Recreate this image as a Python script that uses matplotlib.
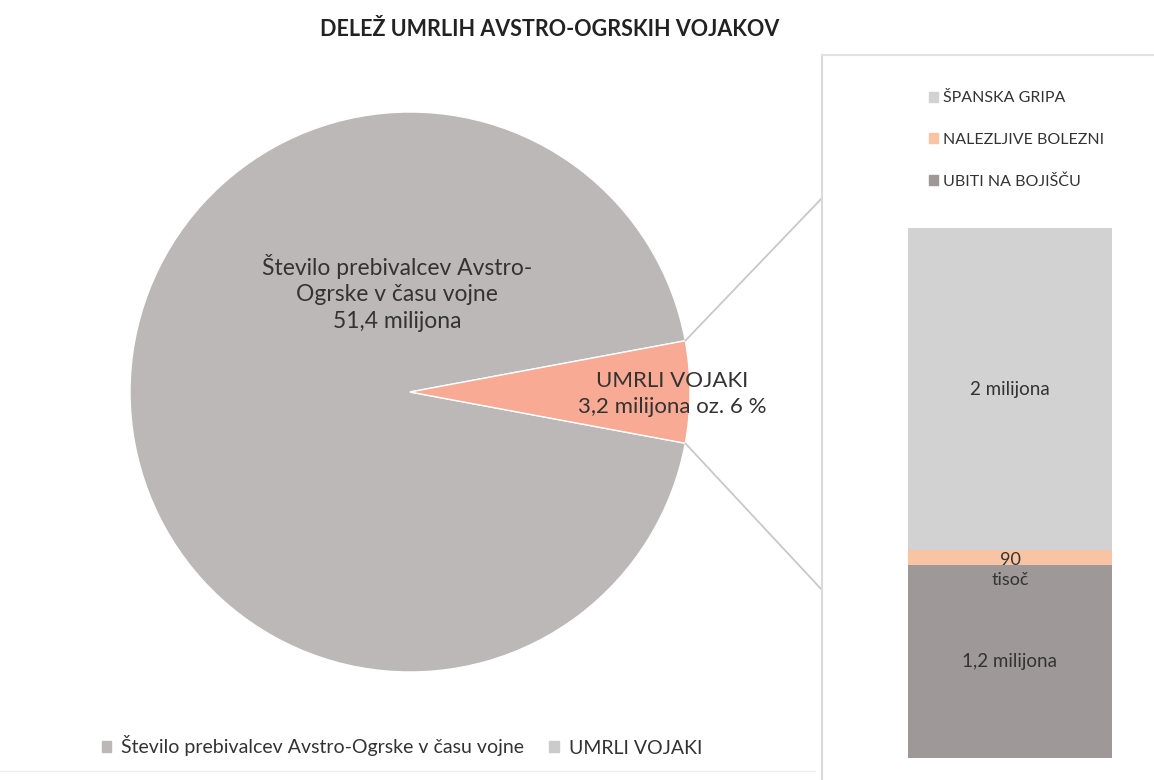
import matplotlib
matplotlib.use("Agg")
import matplotlib.pyplot as plt
from matplotlib.patches import ConnectionPatch, Patch
from matplotlib.lines import Line2D
from matplotlib.transforms import ScaledTranslation
import numpy as np

plt.rcParams['font.family'] = ['Lato', 'DejaVu Sans']

# podatki
pie_labels = ['Število prebivalcev Avstro-Ogrske v času vojne', 'UMRLI VOJAKI']
pie_values = [51.4, 3.2]
pie_texts = ['Število prebivalcev Avstro-\nOgrske v času vojne\n51,4 milijona',
             'UMRLI VOJAKI\n3,2 milijona oz. 6 %']

bar_labels = ['UBITI NA BOJIŠČU', 'NALEZLJIVE BOLEZNI', 'ŠPANSKA GRIPA']
bar_values = [1.2, 0.09, 2.0]
bar_texts = ['1,2 milijona', '90\ntisoč', '2 milijona']

pie_colors = ['#BDB8B8', '#F9AA94']
bar_colors = ['#9E9898', '#F8C4A4', '#D3D2D2']

W, H = 1154, 780
fig = plt.figure(figsize=(W / 100, H / 100), dpi=100)


def px(x0, y0, x1, y1):
    return [x0 / W, 1 - y1 / H, (x1 - x0) / W, (y1 - y0) / H]


# pita
ax = fig.add_axes(px(130, 112, 690, 672))
start = pie_values[1] / sum(pie_values) * 180
wedges, _ = ax.pie(pie_values, colors=pie_colors, startangle=start, radius=1,
                   wedgeprops=dict(edgecolor='white', linewidth=1))
ax.set_xlim(-1, 1)
ax.set_ylim(-1, 1)
ax.axis('off')
ax.text(-0.045, 0.354, pie_texts[0], ha='center', va='center', fontsize=16.5,
        color='#333333', linespacing=1.33)
ax.text(0.936, -0.007, pie_texts[1], ha='center', va='center', fontsize=16,
        color='#333333', linespacing=1.4)

fig.text(550 / W, 1 - 29 / H, 'DELEŽ UMRLIH AVSTRO-OGRSKIH VOJAKOV',
         ha='center', va='center', fontsize=15.5, fontweight='bold', color='#222222')

# stolpec
bx = fig.add_axes(px(880, 228, 1140, 758))
bottom = 0
for v, c, t in zip(bar_values, bar_colors, bar_texts):
    bx.bar(0, v, width=204 / 260, bottom=bottom, color=c)
    if '\n' in t:
        bx.text(0, bottom + v / 2, t, ha='center', va='center', fontsize=13,
                color='#333333', linespacing=1.3,
                transform=bx.transData + ScaledTranslation(0, -13 / 100, fig.dpi_scale_trans))
    else:
        bx.text(0, bottom + v / 2, t, ha='center', va='center', fontsize=13.5, color='#333333')
    bottom += v
bx.set_xlim(-0.5, 0.5)
bx.set_ylim(0, bottom)
bx.axis('off')

# povezovalne črte
ang = np.deg2rad(start)
for sgn, yb in [(1, 198), (-1, 590)]:
    con = ConnectionPatch(xyA=(np.cos(ang), sgn * np.sin(ang)), coordsA=ax.transData,
                          xyB=(822 / W, 1 - yb / H), coordsB=fig.transFigure,
                          color='#C8C8C8', lw=1.3)
    fig.add_artist(con)

# okvir desnega dela
fig.add_artist(Line2D([822 / W, 822 / W], [0, 1 - 55 / H], color='#DADADA', lw=1.5))
fig.add_artist(Line2D([822 / W, 1], [1 - 55 / H, 1 - 55 / H], color='#E2E2E2', lw=1.5))
fig.add_artist(Line2D([0, 815 / W], [1 - 771 / H, 1 - 771 / H], color='#EEEEEE', lw=1))

# legenda desno
handles = [Patch(color=c) for c in bar_colors][::-1]
fig.legend(handles, bar_labels[::-1], loc='upper left',
           bbox_to_anchor=(915 / W, 1 - 77 / H), frameon=False, fontsize=11.5,
           handlelength=0.55, handleheight=0.55, handletextpad=0.3, labelspacing=1.72,
           labelcolor='#333333')

# legenda spodaj
handles2 = [Patch(color='#BDB8B8'), Patch(color='#CBCBCB')]
fig.legend(handles2, pie_labels, loc='center left', ncol=2,
           bbox_to_anchor=(84 / W, 1 - 746 / H), frameon=False, fontsize=14,
           handlelength=0.5, handleheight=0.5, handletextpad=0.5, columnspacing=1.3,
           labelcolor='#333333')

fig.savefig('out.png', dpi=100, facecolor='white')
